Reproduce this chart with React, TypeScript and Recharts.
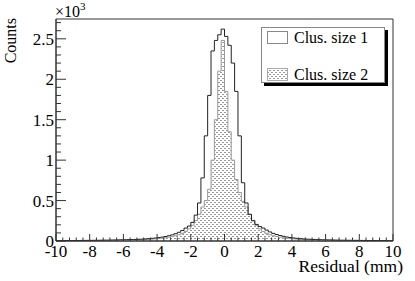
import React from 'react'
import { ComposedChart, Area, Line, XAxis, YAxis, ReferenceArea, Legend } from 'recharts'

const FONT = '"Liberation Serif", "Times New Roman", Times, serif'
const txt = { fontFamily: FONT }

// histogram binning: 100 bins of 0.2 mm between -10 and 10 mm
const histLow = -10
const binWidth = 0.2

// counts per bin (left edge -10.0, -9.8, ... 9.8)
const clusSize1 = [
  4, 5, 4, 6, 5, 6, 6, 7, 7, 8,
  8, 9, 9, 10, 11, 11, 12, 13, 14, 15,
  16, 17, 18, 19, 21, 23, 26, 29, 33, 37,
  42, 48, 56, 65, 76, 90, 108, 130, 160, 185,
  230, 320, 470, 780, 1300, 1800, 2350, 2480, 2550, 2620,
  2530, 2420, 2200, 1850, 1300, 720, 470, 330, 250, 205,
  180, 160, 135, 112, 94, 80, 68, 58, 50, 43,
  38, 33, 29, 26, 23, 21, 19, 17, 16, 15,
  14, 13, 12, 11, 10, 10, 9, 9, 8, 8,
  7, 7, 6, 6, 6, 5, 5, 5, 4, 4,
]

const clusSize2 = [
  2, 2, 2, 2, 3, 3, 3, 3, 4, 4,
  4, 5, 5, 5, 6, 6, 7, 8, 8, 9,
  10, 11, 12, 13, 14, 16, 18, 20, 23, 26,
  30, 35, 40, 47, 55, 65, 78, 95, 118, 150,
  195, 255, 330, 420, 500, 640, 1000, 1500, 2100, 2480,
  1850, 1350, 1000, 760, 600, 490, 420, 330, 255, 195,
  150, 118, 95, 78, 65, 55, 47, 40, 35, 30,
  26, 23, 20, 18, 16, 14, 13, 12, 11, 10,
  9, 8, 8, 7, 6, 6, 5, 5, 5, 4,
  4, 4, 3, 3, 3, 3, 2, 2, 2, 2,
]

const seriesNames: Record<string, string> = { s1: 'Clus. size 1', s2: 'Clus. size 2' }

const xMajorTicks = [-10, -8, -6, -4, -2, 0, 2, 4, 6, 8, 10]
const yMajorTicks = [0, 500, 1000, 1500, 2000, 2500]
const yMax = 2745

const r1 = (v: number) => Math.round(v * 10) / 10

// bin edges, last edge repeats the last bin so the step closes at +10
const data = clusSize1.map((v, i) => ({ x: r1(histLow + i * binWidth), s1: v, s2: clusSize2[i] }))
data.push({ x: r1(histLow + clusSize1.length * binWidth), s1: clusSize1[clusSize1.length - 1], s2: clusSize2[clusSize2.length - 1] })

// ROOT style divisions: 5 minor per major
const xTicks = Array.from({ length: 51 }, (_, i) => r1(-10 + i * 0.4))
const yTicks = Array.from({ length: 28 }, (_, i) => i * 100)

const XTick = (props: any) => {
  const { x, y, payload } = props
  const v = r1(payload.value)
  const major = xMajorTicks.includes(v)
  return (
    <g>
      <line x1={x} x2={x} y1={y} y2={y - (major ? 7 : 3.5)} stroke="#333" />
      {major && (
        <text x={x} y={y + 16} textAnchor="middle" style={txt} fontSize={17} fill="#000">
          {String(v)}
        </text>
      )}
    </g>
  )
}

const YTick = (props: any) => {
  const { x, y, payload } = props
  const v = payload.value
  const major = yMajorTicks.includes(v)
  return (
    <g>
      <line x1={x} x2={x + (major ? 10 : 5)} y1={y} y2={y} stroke="#333" />
      {major && (
        <text x={x - 2} y={y + 6} textAnchor="end" style={txt} fontSize={17} fill="#000">
          {String(v / 1000)}
        </text>
      )}
    </g>
  )
}

const Swatch = ({ dataKey }: { dataKey: string }) => (
  <svg width={21} height={13} style={{ display: 'block' }}>
    <rect
      x={0.5}
      y={0.5}
      width={20}
      height={12}
      fill={dataKey === 's2' ? 'url(#dots)' : '#fff'}
      stroke={dataKey === 's2' ? '#aaa' : '#888'}
    />
  </svg>
)

const LegendBox = (props: any) => {
  const items = [...(props.payload || [])].sort((a: any, b: any) => String(a.value).localeCompare(String(b.value)))
  return (
    <div
      style={{
        position: 'relative',
        width: 122,
        height: 54,
        border: '1px solid #888',
        background: '#fff',
        boxShadow: '3px 3px 0 #000',
        fontFamily: FONT,
        fontSize: 16,
      }}
    >
      {items.map((it: any, i: number) => (
        <div key={it.dataKey} style={{ position: 'absolute', left: 5, top: 3 + i * 37, display: 'flex', alignItems: 'center' }}>
          <Swatch dataKey={it.dataKey} />
          <span style={{ marginLeft: 6, lineHeight: '13px', color: '#000' }}>{it.value}</span>
        </div>
      ))}
    </div>
  )
}

export default function App() {
  return (
    <div style={{ position: 'absolute', left: 0, top: 0, width: 415, height: 281, background: '#fff' }}>
      <svg width={0} height={0} style={{ position: 'absolute' }}>
        <defs>
          <pattern id="dots" width={4} height={4} patternUnits="userSpaceOnUse">
            <rect x={0} y={0} width={2} height={1} fill="#999" />
            <rect x={2} y={2} width={2} height={1} fill="#999" />
          </pattern>
        </defs>
      </svg>
      <ComposedChart width={415} height={281} data={data} margin={{ top: 19, right: 22, bottom: 0, left: 0 }}>
        <XAxis
          dataKey="x"
          type="number"
          domain={[-10, 10]}
          ticks={xTicks}
          interval={0}
          height={40}
          tickSize={0}
          tickMargin={0}
          tick={XTick}
          axisLine={{ stroke: '#333' }}
          tickLine={false}
          allowDataOverflow
        />
        <YAxis
          type="number"
          domain={[0, yMax]}
          ticks={yTicks}
          interval={0}
          width={56}
          tickSize={0}
          tickMargin={0}
          tick={YTick}
          axisLine={{ stroke: '#333' }}
          tickLine={false}
          allowDataOverflow
        />
        <ReferenceArea x1={-10} x2={10} y1={0} y2={yMax} fill="none" stroke="#333" strokeWidth={1} />
        <Area
          dataKey="s2"
          name={seriesNames.s2}
          type="stepAfter"
          stroke="#999"
          strokeWidth={1}
          fill="url(#dots)"
          fillOpacity={1}
          isAnimationActive={false}
        />
        <Line
          dataKey="s1"
          name={seriesNames.s1}
          type="stepAfter"
          stroke="#222"
          strokeWidth={1}
          dot={false}
          isAnimationActive={false}
        />
        <Legend
          layout="vertical"
          align="center"
          verticalAlign="middle"
          content={LegendBox}
          wrapperStyle={{ left: 261, top: 27, width: 124, height: 56 }}
        />
      </ComposedChart>
      <svg width={415} height={281} style={{ position: 'absolute', left: 0, top: 0, pointerEvents: 'none' }}>
        <text x={55} y={17} style={txt} fontSize={16} fill="#000">
          ×10
        </text>
        <text x={80} y={10} style={txt} fontSize={11} fill="#000">
          3
        </text>
        <text x={16} y={18} transform="rotate(-90 16 18)" textAnchor="end" style={txt} fontSize={16} fill="#000">
          Counts
        </text>
        <text x={403} y={272} textAnchor="end" style={txt} fontSize={17.5} fill="#000">
          Residual (mm)
        </text>
      </svg>
    </div>
  )
}
